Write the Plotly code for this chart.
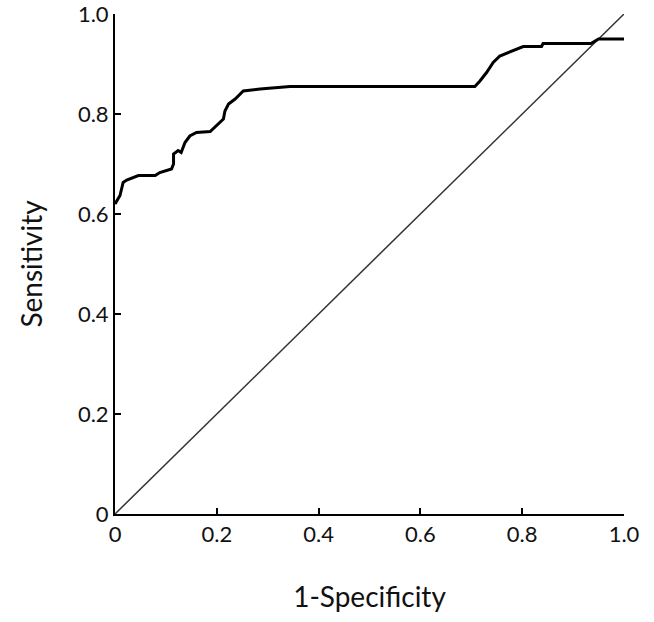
import plotly.graph_objects as go

# ROC curve points (1-Specificity, Sensitivity)
fpr = [0.0, 0.0098, 0.016, 0.023, 0.046, 0.079, 0.088, 0.111, 0.115, 0.115,
       0.124, 0.130, 0.1375, 0.147, 0.160, 0.187, 0.213, 0.216, 0.223, 0.236,
       0.252, 0.285, 0.344, 0.707, 0.717, 0.730, 0.743, 0.756, 0.802, 0.838,
       0.841, 0.935, 0.950, 1.0]
tpr = [0.620, 0.637, 0.663, 0.668, 0.677, 0.677, 0.683, 0.690, 0.700, 0.720,
       0.727, 0.723, 0.743, 0.756, 0.763, 0.765, 0.790, 0.806, 0.820, 0.830,
       0.846, 0.850, 0.855, 0.855, 0.866, 0.883, 0.903, 0.916, 0.935, 0.935,
       0.941, 0.941, 0.950, 0.950]

ref_x = [0, 1]
ref_y = [0, 1]

tick_vals = [0, 0.2, 0.4, 0.6, 0.8, 1.0]
tick_text = ["0", "0.2", "0.4", "0.6", "0.8", "1.0"]

fig = go.Figure()
fig.add_trace(go.Scatter(x=ref_x, y=ref_y, mode="lines",
                         line=dict(color="#333333", width=1.5), showlegend=False))
fig.add_trace(go.Scatter(x=fpr, y=tpr, mode="lines",
                         line=dict(color="black", width=3), showlegend=False))

font_family = "Lato, Open Sans, sans-serif"
axis_common = dict(
    range=[0, 1.0], tickvals=tick_vals, ticktext=tick_text,
    showgrid=False, zeroline=False, showline=True, linecolor="black", linewidth=2,
    ticks="inside", ticklen=6, tickwidth=1.5, tickcolor="black", automargin=False,
    ticklabeloverflow="allow",
    tickfont=dict(family=font_family, size=22, color="#111111"),
)

fig.update_layout(
    width=654, height=622,
    margin=dict(l=115, r=30, t=14, b=108),
    paper_bgcolor="white", plot_bgcolor="white",
    xaxis=dict(**axis_common,
               title=dict(text="1-Specificity", font=dict(family=font_family, size=28, color="#111111"),
                          standoff=41)),
    yaxis=dict(**axis_common,
               title=dict(text="Sensitivity", font=dict(family=font_family, size=28, color="#111111"),
                          standoff=27)),
)

fig.write_html("out.html", config={"displayModeBar": False},
               post_script="document.body.style.margin='0';")
